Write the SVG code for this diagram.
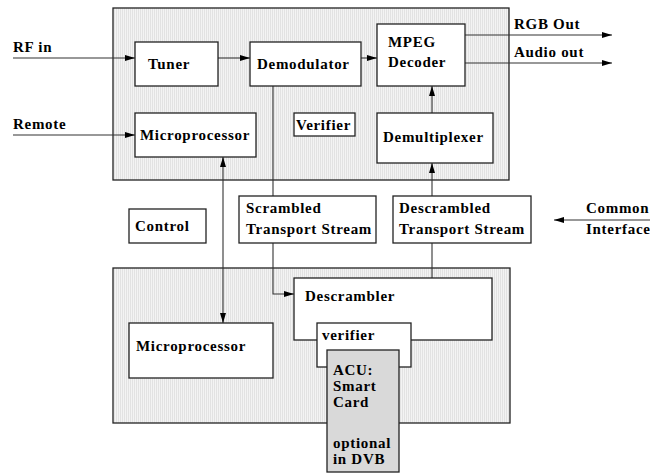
<svg xmlns="http://www.w3.org/2000/svg" width="650" height="473" viewBox="0 0 650 473" font-family="'Liberation Serif', 'Times New Roman', 'DejaVu Serif', serif">
<defs>
<pattern id="hatch" width="2" height="4" patternUnits="userSpaceOnUse">
<rect width="2" height="4" fill="#f3f3f3"/>
<rect width="1" height="4" fill="#e2e2e2"/>
</pattern>
<marker id="ah" viewBox="0 0 10 6" refX="10" refY="3" markerWidth="10" markerHeight="6" markerUnits="userSpaceOnUse" orient="auto-start-reverse">
<path d="M0,0 L10,3 L0,6 Z" fill="#000"/>
</marker>
<style>
.bg{fill:url(#hatch);stroke:#222;stroke-width:1.3}
.box{fill:#fff;stroke:#222;stroke-width:1.3}
.card{fill:#d9d9d9;stroke:#222;stroke-width:1.3}
.ln{fill:none;stroke:#333;stroke-width:1.1}
.arr{fill:none;stroke:#333;stroke-width:1.1;marker-end:url(#ah)}
.bi{fill:none;stroke:#333;stroke-width:1.1;marker-end:url(#ah);marker-start:url(#ah)}
text{font-weight:bold;font-size:15px;letter-spacing:0.7px;fill:#000}
</style>
</defs>
<g id="top-unit"><rect class="bg" x="113" y="8" width="396" height="172"/></g>
<g id="bottom-unit"><rect class="bg" x="113" y="268" width="397" height="155"/></g>

<g id="connectors">
<line class="arr" x1="13" y1="58" x2="135" y2="58"/>
<line class="arr" x1="218" y1="58" x2="250" y2="58"/>
<line class="arr" x1="361" y1="58" x2="377" y2="58"/>
<line class="arr" x1="465" y1="35" x2="612" y2="35"/>
<line class="arr" x1="465" y1="63" x2="612" y2="63"/>
<line class="arr" x1="13" y1="135" x2="135" y2="135"/>
<line class="arr" x1="432" y1="113" x2="432" y2="86"/>
<line class="arr" x1="432" y1="196" x2="432" y2="163"/>
<line class="ln" x1="432" y1="278" x2="432" y2="243"/>
<line class="bi" x1="223" y1="157" x2="223" y2="323"/>
<polyline class="arr" points="273,86 273,294 294,294"/>
<line class="arr" x1="650" y1="220" x2="554" y2="220"/>
</g>

<g id="tuner"><rect class="box" x="135" y="42" width="83" height="44"/><text x="148" y="69">Tuner</text></g>
<g id="demodulator"><rect class="box" x="250" y="42" width="111" height="44"/><text x="257" y="69">Demodulator</text></g>
<g id="mpeg"><rect class="box" x="377" y="24" width="88" height="62"/><text x="388" y="47">MPEG</text><text x="388" y="67">Decoder</text></g>
<g id="micro-top"><rect class="box" x="135" y="113" width="121" height="44"/><text x="140" y="140">Microprocessor</text></g>
<g id="verifier-top"><rect class="box" x="294" y="113" width="61" height="23"/><text x="296" y="130">Verifier</text></g>
<g id="demux"><rect class="box" x="377" y="113" width="116" height="50"/><text x="383" y="142">Demultiplexer</text></g>

<g id="control"><rect class="box" x="129" y="209" width="77" height="34"/><text x="135" y="231">Control</text></g>
<g id="scrambled"><rect class="box" x="239" y="196" width="137" height="47"/><text x="246" y="213">Scrambled</text><text x="246" y="234">Transport Stream</text></g>
<g id="descrambled"><rect class="box" x="393" y="196" width="138" height="47"/><text x="399" y="213">Descrambled</text><text x="399" y="234">Transport Stream</text></g>

<g id="descrambler"><rect class="box" x="294" y="278" width="198" height="62"/><text x="305" y="301">Descrambler</text></g>
<g id="micro-bottom"><rect class="box" x="129" y="323" width="144" height="55"/><text x="136" y="351">Microprocessor</text></g>
<g id="verifier-bottom"><rect class="box" x="317" y="323" width="94" height="44"/><text x="322" y="340">verifier</text></g>
<g id="acu"><rect class="card" x="327" y="350" width="72" height="122"/>
<text x="333" y="375">ACU:</text><text x="333" y="391">Smart</text><text x="333" y="407">Card</text><text x="333" y="448">optional</text><text x="333" y="464">in DVB</text></g>

<g id="labels">
<text x="13" y="52">RF in</text>
<text x="13" y="129">Remote</text>
<text x="514" y="29">RGB Out</text>
<text x="514" y="57">Audio out</text>
<text x="586" y="213">Common</text>
<text x="586" y="234">Interface</text>
</g>
</svg>
